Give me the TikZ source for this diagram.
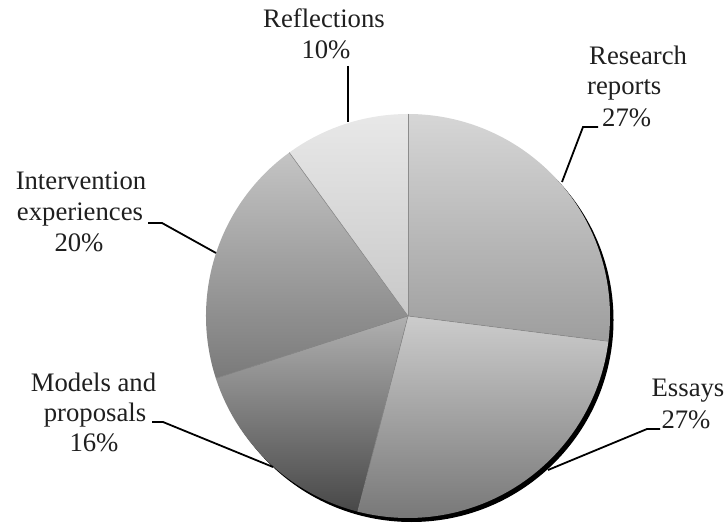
\documentclass[tikz,border=0pt]{standalone}
\usepackage{fontspec}
\setmainfont{Liberation Serif}
\usetikzlibrary{calc}
\begin{document}
\begin{tikzpicture}[x=1pt,y=1pt,
  lbl/.style={font=\fontsize{26.7}{31}\selectfont, text=black!88, inner sep=0pt, anchor=base},
  lblL/.style={lbl, anchor=base west},
  leader/.style={draw=black, line width=1.8pt},
  sep/.style={draw=black!45, line width=0.6pt}]
\useasboundingbox (0,0) rectangle (727,527);
\coordinate (C) at (408,211);
\def\R{202}
% shadow
\fill[black] ($(C)+(3.5,-4)$) circle (\R);
% slices
\path[top color={rgb,255:red,214;green,214;blue,214}, bottom color={rgb,255:red,158;green,158;blue,158}]
  (C) -- ++(90:\R) arc[start angle=90, end angle=-7.2, radius=\R] -- cycle;
\path[top color={rgb,255:red,204;green,204;blue,204}, bottom color={rgb,255:red,118;green,118;blue,118}]
  (C) -- ++(-7.2:\R) arc[start angle=-7.2, end angle=-104.4, radius=\R] -- cycle;
\path[top color={rgb,255:red,176;green,176;blue,176}, bottom color={rgb,255:red,72;green,72;blue,72}]
  (C) -- ++(-104.4:\R) arc[start angle=-104.4, end angle=-162, radius=\R] -- cycle;
\path[top color={rgb,255:red,196;green,196;blue,196}, bottom color={rgb,255:red,122;green,122;blue,122}]
  (C) -- ++(-162:\R) arc[start angle=-162, end angle=-234, radius=\R] -- cycle;
\path[top color={rgb,255:red,232;green,232;blue,232}, bottom color={rgb,255:red,200;green,200;blue,200}]
  (C) -- ++(126:\R) arc[start angle=126, end angle=90, radius=\R] -- cycle;
% separators
\foreach \a in {90,-7.2,-104.4,-162,126} \draw[sep] (C) -- ++(\a:\R);
% labels
\node[lbl] (refl1) at (324,499) {Reflections};
\node[lbl] (refl2) at (326,468) {10\%};
\node[lblL] (res1) at (589,462) {Research};
\node[lblL] (res2) at (587,432) {reports};
\node[lblL] (res3) at (602,400) {27\%};
\node[lbl] (ess1) at (688,130) {Essays};
\node[lbl] (ess2) at (686,99) {27\%};
\node[lbl] (int1) at (81,337) {Intervention};
\node[lbl] (int2) at (80,306) {experiences};
\node[lbl] (int3) at (79,275) {20\%};
\node[lbl] (mod1) at (93.5,135) {Models and};
\node[lbl] (mod2) at (95,105) {proposals};
\node[lbl] (mod3) at (94,76) {16\%};
% leader lines
\coordinate (reflA) at (348,461);
\coordinate (reflB) at (348,405);
\coordinate (resA) at (598,400);
\coordinate (resK) at (583,400);
\coordinate (resB) at (562,345);
\coordinate (essA) at (660,98);
\coordinate (essK) at (647,98);
\coordinate (essB) at (548,57);
\coordinate (intA) at (148,304);
\coordinate (intK) at (162,304);
\coordinate (intB) at (216,274);
\coordinate (modA) at (152,105);
\coordinate (modK) at (163,105);
\coordinate (modB) at (273,60);
\draw[leader] (reflA) -- (reflB);
\draw[leader] (resA) -- (resK) -- (resB);
\draw[leader] (essA) -- (essK) -- (essB);
\draw[leader] (intA) -- (intK) -- (intB);
\draw[leader] (modA) -- (modK) -- (modB);
\end{tikzpicture}
\end{document}
